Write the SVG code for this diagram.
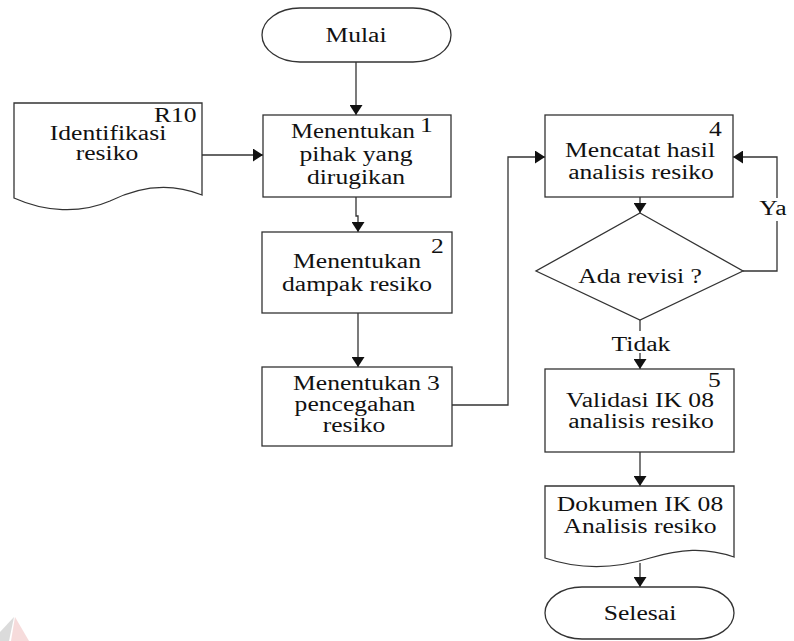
<svg xmlns="http://www.w3.org/2000/svg" width="794" height="641" viewBox="0 0 794 641">
  <style>
    .shape { fill: #ffffff; stroke: #333333; stroke-width: 1.3; }
    .line { fill: none; stroke: #333333; stroke-width: 1.3; }
    .t { font-family: "Liberation Serif", "Times New Roman", serif; font-size: 20px; fill: #111111; text-anchor: middle; }
    .n { font-family: "Liberation Serif", "Times New Roman", serif; font-size: 20px; fill: #111111; text-anchor: start; }
  </style>
  <defs>
    <marker id="arrow" viewBox="0 0 10 13" refX="10" refY="6.5" markerWidth="10" markerHeight="13" markerUnits="userSpaceOnUse" orient="auto">
      <path d="M0,0 L10,6.5 L0,13 z" fill="#111111"/>
    </marker>
  </defs>
  <rect width="794" height="641" fill="#ffffff"/>

  <!-- faint logo fragment in the lower-left corner -->
  <g id="logo-fragment" opacity="0.5">
    <polygon points="0,632 14,617 9,641 0,641" fill="#b8b8b8"/>
    <polygon points="15,617 29,641 11,641" fill="#efb8b8"/>
  </g>

  <!-- connectors -->
  <g id="connectors">
    <path class="line" d="M356,62 V115" marker-end="url(#arrow)"/>
    <path class="line" d="M202,155 H263" marker-end="url(#arrow)"/>
    <path class="line" d="M356,197 V216 H358 V232" marker-end="url(#arrow)"/>
    <path class="line" d="M358,313 V367" marker-end="url(#arrow)"/>
    <path class="line" d="M452,405 H508 V157 H545" marker-end="url(#arrow)"/>
    <path class="line" d="M640,197 V213" marker-end="url(#arrow)"/>
    <path class="line" d="M743,271 H777 V157 H733" marker-end="url(#arrow)"/>
    <path class="line" d="M640,320 V369" marker-end="url(#arrow)"/>
    <path class="line" d="M640,452 V486" marker-end="url(#arrow)"/>
    <path class="line" d="M640,563 V587" marker-end="url(#arrow)"/>
    <!-- branch labels -->
    <rect x="752" y="198" width="40" height="23" fill="#ffffff"/>
    <text class="t" transform="translate(773 215) scale(1.28 1)">Ya</text>
    <rect x="606" y="331" width="70" height="22" fill="#ffffff"/>
    <text class="t" transform="translate(641 351) scale(1.28 1)">Tidak</text>
  </g>

  <g id="mulai">
    <path class="shape" d="M300,8 H413 A38,27 0 0 1 413,62 H300 A38,27 0 0 1 300,8 Z"/>
    <text class="t" transform="translate(356 42) scale(1.28 1)">Mulai</text>
  </g>

  <g id="r10-identifikasi">
    <path class="shape" d="M14,103 H202 V195 C170,182 140,186 110,201 C80,214 45,212 14,198 Z"/>
    <text class="n" transform="translate(154 122) scale(1.28 1)">R10</text>
    <text class="t" transform="translate(108 140) scale(1.28 1)">Identifikasi</text>
    <text class="t" transform="translate(107 160) scale(1.28 1)">resiko</text>
  </g>

  <g id="step-1">
    <rect class="shape" x="263" y="115" width="188" height="82"/>
    <text class="t" transform="translate(353 138) scale(1.24 1)">Menentukan</text>
    <text class="t" transform="translate(356 161) scale(1.28 1)">pihak yang</text>
    <text class="t" transform="translate(356 184) scale(1.28 1)">dirugikan</text>
    <text class="n" transform="translate(420 132) scale(1.28 1)">1</text>
  </g>

  <g id="step-2">
    <rect class="shape" x="262" y="232" width="190" height="81"/>
    <text class="t" transform="translate(357 268) scale(1.28 1)">Menentukan</text>
    <text class="t" transform="translate(357 291) scale(1.28 1)">dampak resiko</text>
    <text class="n" transform="translate(431 253) scale(1.28 1)">2</text>
  </g>

  <g id="step-3">
    <rect class="shape" x="262" y="367" width="190" height="79"/>
    <text class="t" transform="translate(357 390) scale(1.28 1)">Menentukan</text>
    <text class="t" transform="translate(355 411) scale(1.28 1)">pencegahan</text>
    <text class="t" transform="translate(354 432) scale(1.28 1)">resiko</text>
    <text class="n" transform="translate(427 390) scale(1.28 1)">3</text>
  </g>

  <g id="step-4">
    <rect class="shape" x="545" y="115" width="188" height="82"/>
    <text class="t" transform="translate(640 157) scale(1.28 1)">Mencatat hasil</text>
    <text class="t" transform="translate(641 179) scale(1.28 1)">analisis resiko</text>
    <text class="n" transform="translate(709 136) scale(1.28 1)">4</text>
  </g>

  <g id="ada-revisi">
    <polygon class="shape" points="640,213 743,271 640,320 536,271"/>
    <text class="t" transform="translate(640 283) scale(1.28 1)">Ada revisi ?</text>
  </g>

  <g id="step-5">
    <rect class="shape" x="545" y="369" width="189" height="83"/>
    <text class="t" transform="translate(640 407) scale(1.28 1)">Validasi IK 08</text>
    <text class="t" transform="translate(641 428) scale(1.28 1)">analisis resiko</text>
    <text class="n" transform="translate(708 387) scale(1.28 1)">5</text>
  </g>

  <g id="dokumen-ik08">
    <path class="shape" d="M545,486 H734 V557 C705,547 680,549 650,558 C615,569 580,570 545,558 Z"/>
    <text class="t" transform="translate(640 511) scale(1.28 1)">Dokumen IK 08</text>
    <text class="t" transform="translate(640 533) scale(1.28 1)">Analisis resiko</text>
  </g>

  <g id="selesai">
    <path class="shape" d="M582,587 H697 A37,26 0 0 1 697,639 H582 A37,26 0 0 1 582,587 Z"/>
    <text class="t" transform="translate(640 620) scale(1.28 1)">Selesai</text>
  </g>
</svg>
